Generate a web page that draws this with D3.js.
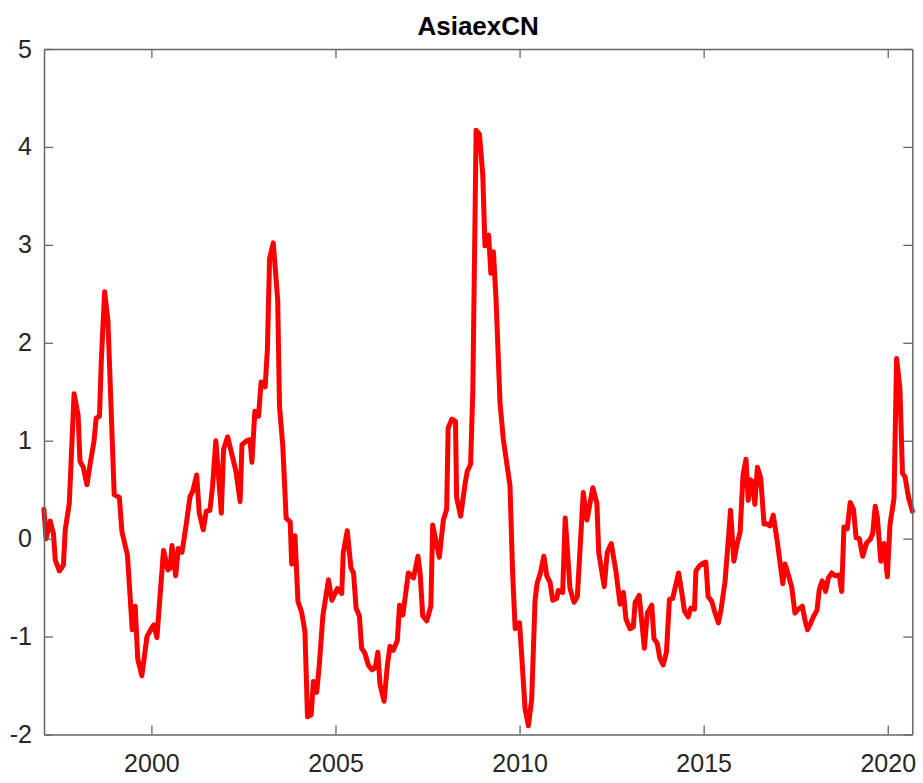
<!DOCTYPE html>
<html>
<head>
<meta charset="utf-8">
<script src="https://cdn.jsdelivr.net/npm/d3@7"></script>
<style>
  body { margin: 0; background: #fff; }
  text { font-family: "Liberation Sans", Arial, sans-serif; }
</style>
</head>
<body>
<div id="chart"></div>
<script>
// chart size and the axes box
var W = 923, H = 783
var margin = {top: 49, right: 10.7, bottom: 48.5, left: 44}
var width = W - margin.left - margin.right,
    height = H - margin.top - margin.bottom

var title = "AsiaexCN"

// dates (decimal years)
var dates = [
  1997.08, 1997.14, 1997.25, 1997.34, 1997.39, 1997.50, 1997.61, 1997.66, 1997.77, 1997.90,
  1998.01, 1998.06, 1998.15, 1998.25, 1998.34, 1998.44, 1998.50, 1998.59, 1998.64, 1998.73,
  1998.82, 1998.99, 1999.13, 1999.20, 1999.35, 1999.48, 1999.56, 1999.63, 1999.74, 1999.88,
  2000.01, 2000.07, 2000.15, 2000.22, 2000.33, 2000.45, 2000.51, 2000.56, 2000.66, 2000.73,
  2000.83, 2000.94, 2001.05, 2001.12, 2001.23, 2001.30, 2001.41, 2001.49, 2001.59, 2001.66,
  2001.75, 2001.90, 2001.96, 2002.07, 2002.20, 2002.30, 2002.41, 2002.46, 2002.59, 2002.68,
  2002.73, 2002.81, 2002.91, 2002.98, 2003.09, 2003.15, 2003.21, 2003.31, 2003.43, 2003.48,
  2003.57, 2003.66, 2003.77, 2003.81, 2003.90, 2003.98, 2004.08, 2004.17, 2004.24, 2004.34,
  2004.40, 2004.49, 2004.56, 2004.66, 2004.81, 2004.90, 2005.05, 2005.17, 2005.21, 2005.32,
  2005.42, 2005.49, 2005.56, 2005.65, 2005.71, 2005.80, 2005.89, 2005.99, 2006.08, 2006.15,
  2006.21, 2006.32, 2006.41, 2006.48, 2006.57, 2006.68, 2006.74, 2006.83, 2006.98, 2007.12,
  2007.24, 2007.30, 2007.37, 2007.48, 2007.59, 2007.64, 2007.82, 2007.93, 2008.02, 2008.06,
  2008.16, 2008.26, 2008.29, 2008.40, 2008.52, 2008.58, 2008.67, 2008.73, 2008.82, 2008.91,
  2009.00, 2009.06, 2009.16, 2009.22, 2009.29, 2009.36, 2009.47, 2009.56, 2009.74, 2009.81,
  2009.88, 2010.00, 2010.06, 2010.15, 2010.24, 2010.33, 2010.42, 2010.48, 2010.56, 2010.66,
  2010.74, 2010.83, 2010.90, 2011.01, 2011.05, 2011.17, 2011.24, 2011.37, 2011.48, 2011.57,
  2011.73, 2011.83, 2011.99, 2012.10, 2012.15, 2012.30, 2012.38, 2012.49, 2012.62, 2012.73,
  2012.82, 2012.89, 2013.00, 2013.09, 2013.14, 2013.25, 2013.39, 2013.47, 2013.59, 2013.65,
  2013.74, 2013.81, 2013.90, 2013.99, 2014.07, 2014.16, 2014.22, 2014.32, 2014.41, 2014.48,
  2014.58, 2014.65, 2014.75, 2014.79, 2014.88, 2014.99, 2015.06, 2015.12, 2015.22, 2015.31,
  2015.40, 2015.47, 2015.58, 2015.67, 2015.73, 2015.82, 2015.91, 2015.99, 2016.07, 2016.15,
  2016.21, 2016.28, 2016.33, 2016.39, 2016.46, 2016.55, 2016.64, 2016.71, 2016.80, 2016.89,
  2017.00, 2017.15, 2017.21, 2017.30, 2017.39, 2017.48, 2017.57, 2017.68, 2017.75, 2017.82,
  2017.91, 2017.99, 2018.08, 2018.14, 2018.22, 2018.31, 2018.39, 2018.48, 2018.57, 2018.68,
  2018.75, 2018.81, 2018.90, 2018.98, 2019.07, 2019.14, 2019.23, 2019.32, 2019.43, 2019.52,
  2019.59, 2019.66, 2019.72, 2019.81, 2019.90, 2019.99, 2020.06, 2020.17, 2020.24, 2020.33,
  2020.40, 2020.47, 2020.57, 2020.67
]

// index values at those dates
var values = [
  0.30, 0.00, 0.18, 0.05, -0.22, -0.33, -0.27, 0.09, 0.36, 1.48,
  1.26, 0.79, 0.73, 0.55, 0.77, 0.99, 1.23, 1.25, 1.82, 2.52,
  2.22, 0.45, 0.42, 0.07, -0.17, -0.93, -0.69, -1.23, -1.40, -1.00,
  -0.91, -0.88, -1.01, -0.66, -0.12, -0.32, -0.30, -0.07, -0.38, -0.10,
  -0.14, 0.13, 0.43, 0.48, 0.65, 0.26, 0.09, 0.28, 0.29, 0.53,
  1.00, 0.26, 0.91, 1.04, 0.84, 0.68, 0.38, 0.96, 1.00, 1.01,
  0.78, 1.30, 1.25, 1.60, 1.55, 1.93, 2.86, 3.02, 2.44, 1.35,
  0.94, 0.21, 0.17, -0.26, 0.03, -0.64, -0.75, -0.95, -1.82, -1.80,
  -1.46, -1.57, -1.29, -0.78, -0.42, -0.63, -0.51, -0.56, -0.15, 0.08,
  -0.30, -0.35, -0.71, -0.79, -1.12, -1.17, -1.29, -1.34, -1.32, -1.16,
  -1.49, -1.66, -1.29, -1.10, -1.14, -1.04, -0.68, -0.78, -0.35, -0.40,
  -0.18, -0.36, -0.79, -0.84, -0.69, 0.14, -0.19, 0.19, 0.30, 1.13,
  1.22, 1.20, 0.42, 0.23, 0.56, 0.69, 0.76, 1.50, 4.17, 4.13,
  3.72, 2.99, 3.10, 2.71, 2.93, 2.45, 1.38, 1.01, 0.54, -0.34,
  -0.92, -0.86, -1.21, -1.74, -1.91, -1.64, -0.63, -0.45, -0.36, -0.18,
  -0.38, -0.45, -0.63, -0.61, -0.53, -0.55, 0.21, -0.51, -0.65, -0.59,
  0.47, 0.19, 0.52, 0.36, -0.14, -0.49, -0.14, -0.05, -0.34, -0.67,
  -0.55, -0.82, -0.92, -0.90, -0.65, -0.58, -1.12, -0.76, -0.68, -1.02,
  -1.07, -1.22, -1.29, -1.16, -0.62, -0.61, -0.51, -0.35, -0.56, -0.74,
  -0.80, -0.71, -0.72, -0.33, -0.28, -0.25, -0.24, -0.59, -0.64, -0.76,
  -0.86, -0.73, -0.44, -0.01, 0.29, -0.23, -0.05, 0.07, 0.65, 0.81,
  0.39, 0.60, 0.58, 0.35, 0.73, 0.62, 0.15, 0.15, 0.13, 0.24,
  -0.03, -0.46, -0.26, -0.37, -0.49, -0.76, -0.72, -0.69, -0.83, -0.93,
  -0.86, -0.79, -0.73, -0.52, -0.43, -0.54, -0.40, -0.35, -0.38, -0.37,
  -0.54, 0.12, 0.10, 0.37, 0.30, 0.01, 0.00, -0.18, -0.04, -0.01,
  0.05, 0.33, 0.21, -0.23, -0.05, -0.39, 0.14, 0.41, 1.84, 1.54,
  0.67, 0.63, 0.41, 0.28
]

var xTicks = [2000, 2005, 2010, 2015, 2020]
var yTicks = [-2, -1, 0, 1, 2, 3, 4, 5]
var xDomain = [1997.083, 2020.667]
var yDomain = [-2, 5]

var svg = d3.select("#chart")
  .append("svg")
    .attr("width", W)
    .attr("height", H)
  .append("g")
    .attr("transform", "translate(" + margin.left + "," + margin.top + ")")

var x = d3.scaleLinear().domain(xDomain).range([0, width])
var y = d3.scaleLinear().domain(yDomain).range([height, 0])

var axisColor = "#666666", labelColor = "#262626", tickLen = 9

// the line
var data = dates.map(function(d, i) { return {date: d, value: values[i]} })
svg.append("path")
  .datum(data)
  .attr("fill", "none")
  .attr("stroke", "#ff0000")
  .attr("stroke-width", 5)
  .attr("stroke-linejoin", "round")
  .attr("stroke-linecap", "round")
  .attr("d", d3.line()
    .x(function(d) { return x(d.date) })
    .y(function(d) { return y(d.value) }))

// axes, MATLAB style: ticks inside, box all around
function styleAxis(g) {
  g.select(".domain").attr("stroke", axisColor).attr("stroke-width", 1.5)
  g.selectAll(".tick line").attr("stroke", axisColor).attr("stroke-width", 1.3)
  g.selectAll(".tick text").attr("fill", labelColor).attr("font-size", 25)
}

// plain hyphen for negatives, like the original
var plain = function(d) { return String(d) }

svg.append("g")
  .attr("transform", "translate(0," + height + ")")
  .call(d3.axisBottom(x).tickValues(xTicks).tickFormat(plain)
    .tickSizeInner(-tickLen).tickSizeOuter(0).tickPadding(20))
  .call(styleAxis)
  .selectAll(".tick text").attr("dy", "0.71em")

svg.append("g")
  .call(d3.axisTop(x).tickValues(xTicks).tickFormat("")
    .tickSizeInner(-tickLen).tickSizeOuter(0))
  .call(styleAxis)

svg.append("g")
  .call(d3.axisLeft(y).tickValues(yTicks).tickFormat(plain)
    .tickSizeInner(-tickLen).tickSizeOuter(0).tickPadding(12))
  .call(styleAxis)

svg.append("g")
  .attr("transform", "translate(" + width + ",0)")
  .call(d3.axisRight(y).tickValues(yTicks).tickFormat("")
    .tickSizeInner(-tickLen).tickSizeOuter(0))
  .call(styleAxis)

// title
svg.append("text")
  .attr("x", width / 2)
  .attr("y", -14.5)
  .attr("text-anchor", "middle")
  .attr("font-size", 26)
  .attr("font-weight", "bold")
  .attr("fill", "#000")
  .text(title)
</script>
</body>
</html>
